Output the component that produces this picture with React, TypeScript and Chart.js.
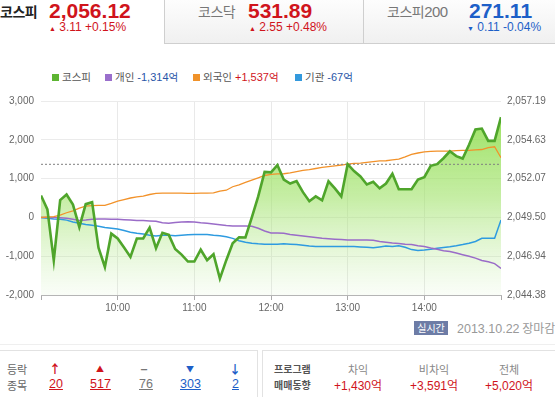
import React, { useEffect, useRef } from 'react';
import { Chart, registerables } from 'chart.js';

Chart.register(...registerables);

// minutes after 09:00
const times = [
  0, 5, 10, 15, 20, 25, 30, 35, 40, 45, 50, 55,
  60, 65, 70, 75, 80, 85, 90, 95, 100, 105, 110, 115,
  120, 125, 130, 135, 140, 145, 150, 155, 160, 165, 170, 175,
  180, 185, 190, 195, 200, 205, 210, 215, 220, 225, 230, 235,
  240, 245, 250, 255, 260, 265, 270, 275, 280, 285, 290, 295,
  300, 305, 310, 315, 320, 325, 330, 335, 340, 345, 350, 355,
  360,
];

const kospi = [
  2050.95, 2050.03, 2046.66, 2050.65, 2051.02, 2050.35, 2048.86, 2050.38, 2050.51, 2047.51, 2046.23, 2048.43,
  2048.11, 2047.51, 2046.89, 2048.11, 2048.11, 2048.83, 2047.47, 2048.49, 2048.35, 2047.42, 2047.05, 2046.59,
  2046.59, 2047.37, 2046.68, 2047.07, 2045.46, 2046.68, 2047.80, 2048.19, 2048.18, 2049.50, 2050.89, 2052.51,
  2052.48, 2052.96, 2052.00, 2051.74, 2051.90, 2051.17, 2050.57, 2050.89, 2050.63, 2051.89, 2051.42, 2050.89,
  2053.02, 2052.56, 2052.21, 2051.68, 2051.85, 2051.42, 2051.74, 2052.38, 2051.36, 2051.36, 2051.36, 2052.00,
  2052.16, 2052.91, 2053.02, 2053.41, 2053.87, 2053.55, 2053.39, 2054.30, 2055.31, 2055.37, 2054.56, 2054.56,
  2056.12,
];

const individual = [
  0, 0, 0, -10, -20, -50, -80, -70, -50, -40, -40, -50,
  -50, -60, -70, -80, -80, -90, -100, -140, -150, -130, -120, -110,
  -120, -140, -150, -170, -190, -210, -220, -220, -220, -230, -280, -350,
  -400, -400, -410, -440, -460, -480, -500, -520, -540, -550, -560, -570,
  -580, -585, -585, -585, -590, -620, -640, -660, -670, -690, -700, -730,
  -750, -790, -820, -860, -880, -920, -960, -1000, -1050, -1110, -1145, -1190,
  -1314,
];

const foreign = [
  0, 10, 20, 60, 120, 170, 240, 290, 305, 308, 310, 360,
  420, 460, 500, 530, 550, 590, 620, 625, 625, 625, 625, 620,
  620, 625, 625, 630, 680, 700, 790, 840, 900, 960, 1020, 1080,
  1110, 1120, 1125, 1150, 1180, 1210, 1230, 1260, 1290, 1310, 1330, 1350,
  1375, 1390, 1400, 1420, 1440, 1455, 1460, 1480, 1500, 1560, 1625, 1660,
  1690, 1700, 1710, 1710, 1710, 1720, 1725, 1730, 1740, 1750, 1800, 1820,
  1537,
];

const institution = [
  0, -20, -40, -50, -70, -120, -150, -180, -200, -230, -260, -280,
  -300, -340, -380, -410, -430, -460, -480, -460, -460, -470, -460, -450,
  -440, -440, -440, -460, -475, -500, -540, -600, -640, -665, -680, -690,
  -690, -690, -680, -690, -700, -720, -740, -750, -750, -750, -750, -750,
  -750, -750, -760, -770, -780, -760, -740, -750, -730, -770, -830, -850,
  -840, -820, -795, -775, -755, -730, -700, -665, -620, -540, -540, -540,
  -67,
];

const prevClose = 2053.01;
const hourTicks = [0, 60, 120, 180, 240, 300, 360];
const hourLabels = ['09:00', '10:00', '11:00', '12:00', '13:00', '14:00', '15:00'];
const leftTicks = [-2000, -1000, 0, 1000, 2000, 3000];
const rightTicks = [2044.38, 2046.94, 2049.5, 2052.07, 2054.63, 2057.19];

const KR = '"Noto Sans CJK KR", "Noto Sans", sans-serif';
const NUM = '"Liberation Sans", Arial, sans-serif';

const pts = (vals: number[]) => times.map((t, i) => ({ x: t, y: vals[i] }));

function ChartBox() {
  const ref = useRef<HTMLCanvasElement | null>(null);
  useEffect(() => {
    if (!ref.current) return;
    const tickFont = { family: NUM, size: 10 };
    const chart = new Chart(ref.current, {
      type: 'line',
      data: {
        datasets: [
          {
            label: '코스피',
            data: pts(kospi),
            yAxisID: 'yR',
            borderColor: '#4fa52b',
            borderWidth: 2.6,
            pointRadius: 0,
            tension: 0,
            fill: 'start',
            backgroundColor: (ctx: any) => {
              const a = ctx.chart.chartArea;
              if (!a) return 'rgba(150,220,90,0.5)';
              const g = ctx.chart.ctx.createLinearGradient(0, a.top, 0, a.bottom);
              g.addColorStop(0, 'rgba(135,220,65,0.9)');
              g.addColorStop(0.5, 'rgba(160,226,105,0.6)');
              g.addColorStop(1, 'rgba(190,235,160,0.08)');
              return g;
            },
          },
          {
            label: '전일종가',
            data: [{ x: times[0], y: prevClose }, { x: times[times.length - 1], y: prevClose }],
            yAxisID: 'yR',
            borderColor: '#808080',
            borderWidth: 1,
            borderDash: [2, 2],
            pointRadius: 0,
            fill: false,
          },
          {
            label: '외국인',
            data: pts(foreign),
            yAxisID: 'yL',
            borderColor: '#f2922a',
            borderWidth: 1.3,
            pointRadius: 0,
            tension: 0,
            fill: false,
          },
          {
            label: '개인',
            data: pts(individual),
            yAxisID: 'yL',
            borderColor: '#9a6cc8',
            borderWidth: 1.5,
            pointRadius: 0,
            tension: 0,
            fill: false,
          },
          {
            label: '기관',
            data: pts(institution),
            yAxisID: 'yL',
            borderColor: '#2e9be0',
            borderWidth: 1.5,
            pointRadius: 0,
            tension: 0,
            fill: false,
          },
        ],
      },
      options: {
        animation: false,
        responsive: false,
        maintainAspectRatio: false,
        layout: { padding: { top: 7, left: 0, right: 0, bottom: 0 } },
        plugins: {
          legend: { display: false },
          tooltip: { enabled: false },
          filler: { drawTime: 'beforeDatasetsDraw' },
        } as any,
        scales: {
          x: {
            type: 'linear',
            min: 0,
            max: 360,
            afterBuildTicks: (s: any) => {
              s.ticks = hourTicks.map((v) => ({ value: v }));
            },
            afterFit: (s: any) => {
              s.height = 20;
            },
            ticks: {
              autoSkip: false,
              maxRotation: 0,
              padding: 2,
              font: tickFont,
              color: '#666',
              callback: (v: any) => {
                const i = hourTicks.indexOf(Number(v));
                if (i <= 0 || i === hourTicks.length - 1) return '';
                return hourLabels[i];
              },
            },
            grid: {
              color: (c: any) =>
                c.tick && (c.tick.value === 0 || c.tick.value === 360) ? 'rgba(0,0,0,0)' : '#e9e9e9',
              tickColor: '#aaa',
              tickLength: 5,
            },
            border: { display: true, color: '#b5b5b5' },
          },
          yL: {
            position: 'left',
            min: -2000,
            max: 3000,
            afterBuildTicks: (s: any) => {
              s.ticks = leftTicks.map((v) => ({ value: v }));
            },
            afterFit: (s: any) => {
              s.width = 41;
            },
            ticks: {
              padding: 7,
              font: tickFont,
              color: '#666',
              callback: (v: any) => Number(v).toLocaleString('en-US'),
            },
            grid: { color: '#ebebeb', drawTicks: false },
            border: { display: false },
          },
          yR: {
            position: 'right',
            min: rightTicks[0],
            max: rightTicks[rightTicks.length - 1],
            afterBuildTicks: (s: any) => {
              s.ticks = rightTicks.map((v) => ({ value: v }));
            },
            afterFit: (s: any) => {
              s.width = 54;
            },
            ticks: {
              padding: 6,
              font: tickFont,
              color: '#666',
              callback: (v: any) =>
                Number(v).toLocaleString('en-US', { minimumFractionDigits: 2, maximumFractionDigits: 2 }),
            },
            grid: { display: false, drawTicks: false },
            border: { display: false },
          },
        },
      } as any,
    });
    return () => chart.destroy();
  }, []);
  return <canvas ref={ref} width={555} height={227} style={{ position: 'absolute', left: 0, top: 88, width: 555, height: 227 }} />;
}

const abs = (left: number, top: number, extra: React.CSSProperties = {}): React.CSSProperties => ({
  position: 'absolute',
  left,
  top,
  whiteSpace: 'nowrap',
  ...extra,
});

const RED = '#d0141c';
const BLUE = '#1d5fc8';

export default function App() {
  const legendItems = [
    { x: 52, color: '#5db532', label: '코스피', value: '', vcolor: '' },
    { x: 105, color: '#9a6fcc', label: '개인', value: '-1,314억', vcolor: '#2a56a8' },
    { x: 193, color: '#f0922a', label: '외국인', value: '+1,537억', vcolor: '#d0141c' },
    { x: 295, color: '#3399dd', label: '기관', value: '-67억', vcolor: '#2a56a8' },
  ];
  const updown = [
    { cx: 55, sym: '↑', n: '20', c: RED, nx: 49 },
    { cx: 100, sym: '▲', n: '517', c: RED, nx: 90 },
    { cx: 144, sym: '−', n: '76', c: '#777', nx: 139 },
    { cx: 190, sym: '▼', n: '303', c: BLUE, nx: 180 },
    { cx: 235, sym: '↓', n: '2', c: BLUE, nx: 232 },
  ];
  const program = [
    { cx: 358, h: '차익', v: '+1,430억' },
    { cx: 434, h: '비차익', v: '+3,591억' },
    { cx: 509, h: '전체', v: '+5,020억' },
  ];
  return (
    <div
      style={{
        position: 'absolute',
        left: 0,
        top: 0,
        width: 555,
        height: 397,
        overflow: 'hidden',
        background: '#fff',
        fontFamily: KR,
      }}
    >
      {/* header tabs */}
      <div style={abs(164, 0, { width: 199, height: 43, background: 'linear-gradient(#fdfdfd,#f0f0f0)', borderLeft: '1px solid #cfcfcf', borderBottom: '1px solid #cfcfcf' })} />
      <div style={abs(363, 0, { width: 192, height: 43, background: 'linear-gradient(#fdfdfd,#f0f0f0)', borderLeft: '1px solid #cfcfcf', borderBottom: '1px solid #cfcfcf' })} />

      <div style={abs(0, 1, { fontSize: 14, fontWeight: 700, color: '#222', lineHeight: '20px', letterSpacing: -0.5 })}>코스피</div>
      <div style={abs(49, 0, { fontFamily: NUM, fontSize: 21, fontWeight: 700, color: RED, lineHeight: '22px' })}>2,056.12</div>
      <div style={abs(49, 21, { fontFamily: NUM, fontSize: 12, color: RED, lineHeight: '13px' })}>
        <span style={{ fontSize: 7 }}>▲</span> 3.11 +0.15%
      </div>

      <div style={abs(198, 1, { fontSize: 14, color: '#777', lineHeight: '20px', letterSpacing: -0.5 })}>코스닥</div>
      <div style={abs(248, 0, { fontFamily: NUM, fontSize: 21, fontWeight: 700, color: RED, lineHeight: '22px' })}>531.89</div>
      <div style={abs(249, 21, { fontFamily: NUM, fontSize: 12, color: RED, lineHeight: '13px' })}>
        <span style={{ fontSize: 7 }}>▲</span> 2.55 +0.48%
      </div>

      <div style={abs(387, 1, { fontSize: 14, color: '#777', lineHeight: '20px', letterSpacing: -0.5 })}>
        코스피<span style={{ fontFamily: NUM, fontSize: 15 }}>200</span>
      </div>
      <div style={abs(469, 0, { fontFamily: NUM, fontSize: 21, fontWeight: 700, color: BLUE, lineHeight: '22px' })}>271.11</div>
      <div style={abs(467, 21, { fontFamily: NUM, fontSize: 12, color: BLUE, lineHeight: '13px' })}>
        <span style={{ fontSize: 7 }}>▼</span> 0.11 -0.04%
      </div>

      {/* legend */}
      {legendItems.map((it) => (
        <div key={it.label} style={abs(it.x, 70, { fontSize: 10.5, lineHeight: '14px', color: '#555' })}>
          <span style={{ display: 'inline-block', width: 7, height: 7, background: it.color, marginRight: 3, verticalAlign: 0 }} />
          {it.label}
          {it.value ? (
            <span style={{ color: it.vcolor, marginLeft: 3, fontFamily: NUM, fontSize: 11 }}>
              {it.value.replace('억', '')}
              <span style={{ fontFamily: KR, fontSize: 10.5 }}>억</span>
            </span>
          ) : null}
        </div>
      ))}

      <ChartBox />

      {/* status */}
      <div style={abs(414, 321, { width: 34, height: 14, background: '#6d7ca6', color: '#fff', fontSize: 10, lineHeight: '14px', textAlign: 'center' })}>실시간</div>
      <div style={abs(457, 319, { fontSize: 12, color: '#999', lineHeight: '17px' })}>
        <span style={{ fontFamily: NUM, fontSize: 12.5 }}>2013.10.22</span> 장마감
      </div>

      <div style={abs(0, 344, { width: 555, height: 1, background: '#efefef' })} />

      {/* bottom boxes */}
      <div style={abs(0, 350, { width: 258, height: 50, border: '1px solid #e2e2e2', borderLeft: 'none', boxSizing: 'border-box' })} />
      <div style={abs(262, 350, { width: 293, height: 50, border: '1px solid #e2e2e2', borderRight: 'none', boxSizing: 'border-box' })} />

      <div style={abs(7, 362, { fontSize: 11, color: '#666', lineHeight: '14px' })}>등락</div>
      <div style={abs(7, 378, { fontSize: 11, color: '#666', lineHeight: '14px' })}>종목</div>
      {updown.map((u) => (
        <React.Fragment key={u.n}>
          <div style={abs(u.cx - 10, 362, { width: 20, textAlign: 'center', fontSize: u.sym === '▲' || u.sym === '▼' ? 8 : 12, color: u.c, lineHeight: '14px', fontWeight: 700 })}>{u.sym}</div>
          <div style={abs(u.nx, 377, { fontFamily: NUM, fontSize: 12.5, color: u.c, lineHeight: '15px', textDecoration: 'underline' })}>{u.n}</div>
        </React.Fragment>
      ))}

      <div style={abs(274, 362, { fontSize: 10, color: '#555', lineHeight: '14px', fontWeight: 700 })}>프로그램</div>
      <div style={abs(274, 378, { fontSize: 10, color: '#555', lineHeight: '14px', fontWeight: 700 })}>매매동향</div>
      {program.map((p) => (
        <React.Fragment key={p.h}>
          <div style={abs(p.cx - 30, 362, { width: 60, textAlign: 'center', fontSize: 11, color: '#888', lineHeight: '14px' })}>{p.h}</div>
          <div style={abs(p.cx - 40, 377, { width: 80, textAlign: 'center', fontSize: 12, color: RED, lineHeight: '15px' })}>
            <span style={{ fontFamily: NUM }}>{p.v.replace('억', '')}</span>억
          </div>
        </React.Fragment>
      ))}
    </div>
  );
}
